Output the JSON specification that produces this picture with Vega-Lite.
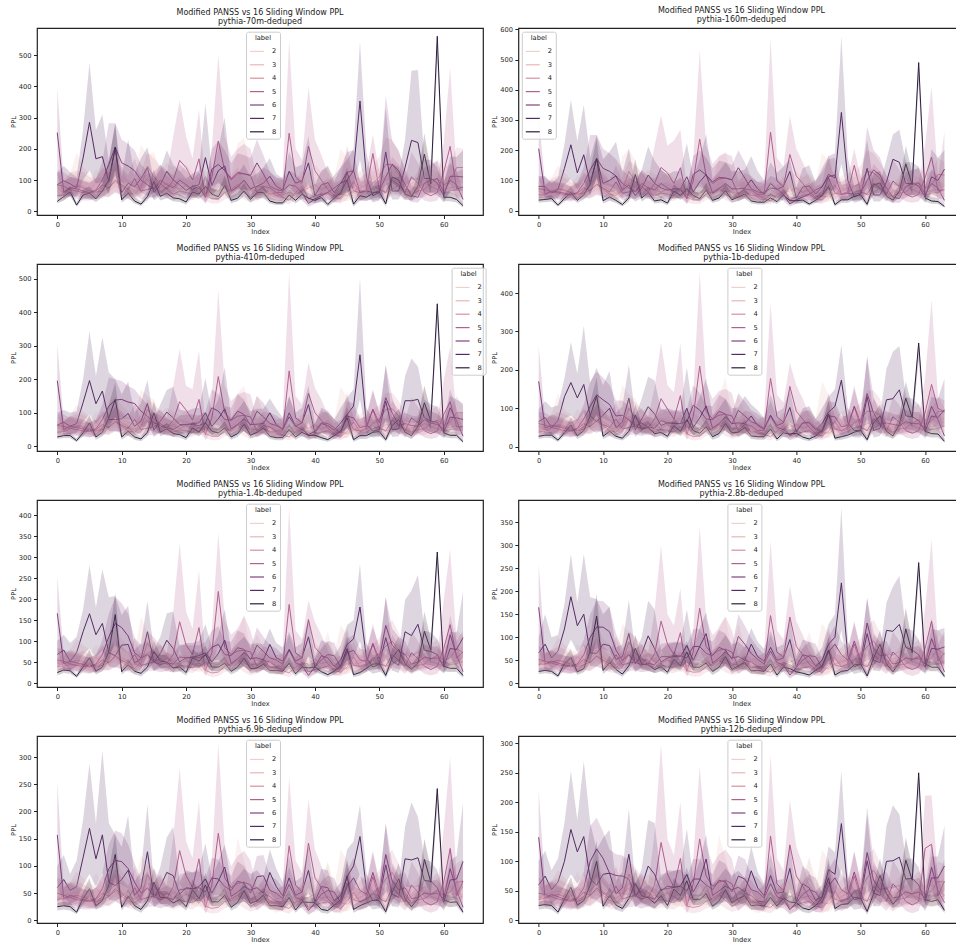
{"$schema":"https://vega.github.io/schema/vega-lite/v6.json","padding":{"left":9,"top":6,"right":0,"bottom":0},"autosize":{"type":"pad"},"background":"white",
"config":{"font":"DejaVu Sans","view":{"stroke":"#222","strokeWidth":1.2},"axis":{"grid":false,"domain":false,"tickColor":"#222","tickSize":3.5,"labelFontSize":6.7,"titleFontSize":6.7,"labelColor":"#222","titleColor":"#222","titleFontWeight":"normal","labelPadding":2.5,"titlePadding":3},"axisX":{"titlePadding":1},"title":{"fontSize":8,"fontWeight":"normal","color":"#222","subtitleFontSize":8,"subtitleColor":"#222","subtitlePadding":1,"offset":2,"anchor":"middle"},"legend":{"titleFontSize":6.7,"labelFontSize":6.7,"titleFontWeight":"normal","symbolSize":196,"symbolStrokeWidth":1.2,"rowPadding":1.4,"padding":3,"titlePadding":2,"fillColor":"#ffffffcc","strokeColor":"#ccc","cornerRadius":2,"titleAnchor":"middle","labelColor":"#222","titleColor":"#222","labelOffset":7}},
"datasets":{"all":[
{"p":1,"label":2,"y":[80,70,75,85,75,65,95,75,90,115,80,70,60,75,100,70,80,75,90,70,80,65,75,60,60,70,80,55,75,85,60,85,70,55,60,70,80,60,70,85,65,85,105,75,55,70,60,85,75,80,70,85,95,80,60,70,85,105,75,90,70,75,80,75],"lo":[55,50,52,58,52,45,65,50,60,75,55,48,42,50,68,48,55,50,60,48,55,45,50,40,42,48,55,38,50,58,42,58,48,38,40,48,55,42,48,58,45,58,70,50,38,48,42,58,50,55,48,58,65,55,42,48,58,70,50,62,48,50,55,50],"hi":[115,100,105,125,110,95,135,110,130,165,115,100,90,110,145,100,115,110,130,100,115,95,110,90,90,105,115,85,110,125,90,125,105,85,90,105,115,90,105,125,95,125,150,110,85,105,90,125,110,115,105,125,135,115,90,105,125,150,110,130,105,110,115,110]},
{"p":1,"label":3,"y":[75,60,72,85,80,70,60,75,95,120,95,80,65,85,105,85,75,90,80,70,85,70,60,75,70,65,75,60,85,95,70,65,75,60,50,55,60,55,65,75,85,70,80,60,55,50,65,75,85,70,80,60,70,85,65,50,75,90,80,70,60,65,70,78],"lo":[50,40,50,58,55,48,40,50,65,80,65,55,42,55,70,58,50,60,55,48,58,48,40,50,48,42,50,40,58,62,48,42,50,38,28,35,40,38,42,50,58,48,55,40,35,32,42,50,58,48,55,40,48,58,42,32,50,60,55,48,40,42,48,52],"hi":[125,105,120,190,140,120,105,130,165,200,165,140,115,212,180,190,130,155,140,125,150,125,105,130,125,115,130,110,218,235,125,150,130,110,90,100,110,100,115,130,150,125,140,110,200,170,115,130,150,125,140,110,125,150,115,90,130,225,140,125,105,115,125,135]},
{"p":1,"label":4,"y":[50,52,75,80,75,65,62,64,75,95,80,60,55,75,145,110,90,70,55,65,60,55,75,50,40,40,60,70,85,60,45,55,70,55,60,45,35,60,80,40,50,55,60,45,40,60,95,60,65,90,110,150,150,120,85,55,65,70,90,105,85,95,140,140],"lo":[32,35,50,55,50,42,40,42,48,62,52,38,35,48,95,72,58,45,35,42,40,35,48,32,25,25,38,45,55,38,28,35,45,35,38,28,22,38,52,25,32,35,38,28,25,38,62,38,42,58,70,98,98,78,55,35,42,45,58,68,55,62,90,90],"hi":[85,90,125,130,125,110,105,108,125,155,130,100,95,125,190,170,145,115,95,110,100,95,125,85,70,70,100,115,140,100,75,95,115,95,100,75,60,100,130,70,85,95,100,75,70,100,155,100,110,145,175,235,230,190,140,95,110,115,145,165,140,150,205,200]},
{"p":1,"label":5,"y":[85,80,70,65,60,58,65,85,75,100,85,70,105,65,70,75,90,70,100,163,140,100,168,45,110,225,130,100,120,120,115,60,80,75,60,60,250,110,90,208,130,100,70,50,55,125,65,60,70,185,70,60,100,85,60,110,90,60,50,60,125,208,72,77],"lo":[45,50,45,40,35,35,40,50,45,60,50,42,60,38,42,45,52,42,58,90,80,58,90,25,60,95,70,55,70,70,65,35,48,42,35,35,90,60,50,75,70,55,40,28,30,70,38,35,42,100,42,35,58,50,35,62,52,35,30,35,70,90,42,45],"hi":[125,125,110,105,95,95,105,140,125,165,140,115,170,110,120,125,150,115,240,355,240,170,325,85,200,500,240,175,200,215,200,105,140,130,105,110,545,200,165,395,230,180,125,90,100,210,115,105,125,245,125,105,175,150,105,190,155,105,90,105,220,460,125,135]},
{"p":1,"label":6,"y":[252,62,75,72,65,60,68,100,150,205,155,145,130,100,85,70,100,85,75,100,85,70,80,45,135,150,130,105,125,120,115,155,120,80,70,65,85,80,60,25,40,50,60,75,90,125,130,60,65,60,65,110,150,130,85,50,45,90,100,105,60,100,85,38],"lo":[120,40,50,48,42,38,42,60,90,130,95,90,80,60,50,42,60,50,45,60,50,42,48,25,80,90,75,60,72,70,65,90,70,48,42,38,50,48,35,15,24,30,35,45,52,75,75,35,38,35,38,60,90,75,50,30,28,52,60,60,35,60,50,22],"hi":[395,95,110,105,100,90,105,160,282,282,230,215,195,150,130,105,150,130,115,150,130,105,125,75,200,225,195,155,185,180,170,230,180,125,110,100,130,120,95,45,65,80,95,115,140,190,195,95,100,95,100,370,225,195,130,80,75,140,150,160,95,155,130,65]},
{"p":1,"label":7,"y":[85,98,88,75,170,285,168,175,95,203,60,90,78,105,140,60,85,128,100,85,67,80,85,172,83,130,145,65,78,100,72,80,90,112,80,68,128,90,98,155,50,85,92,60,90,100,130,353,110,50,60,190,65,65,140,227,220,105,105,90,50,112,112,110],"lo":[45,60,50,45,100,130,90,95,55,120,35,55,45,60,85,35,50,75,60,50,40,48,50,100,50,75,85,38,45,60,42,48,55,65,48,40,75,52,58,90,28,50,55,35,52,60,75,165,60,28,35,90,38,38,80,100,100,60,60,52,28,65,65,65],"hi":[125,145,125,110,260,475,260,310,160,282,110,230,120,170,205,100,135,195,150,130,105,120,130,345,130,200,300,105,120,150,110,120,140,170,120,105,190,140,150,240,85,130,145,95,140,165,200,543,190,85,100,330,110,110,230,450,452,165,165,140,85,175,175,195]},
{"p":1,"label":8,"y":[32,47,62,20,52,58,40,65,100,205,37,58,33,23,47,95,48,58,43,40,30,62,55,80,55,47,83,35,42,65,38,60,60,33,27,27,52,35,55,42,35,44,22,42,60,100,23,50,45,58,62,24,110,100,55,47,82,183,88,560,45,45,38,18],"lo":[25,35,48,15,40,42,30,45,60,130,28,42,25,17,35,65,35,42,32,30,22,45,40,55,40,35,58,26,32,48,28,42,42,25,20,20,38,26,40,30,26,32,15,30,42,65,15,35,32,42,45,16,70,60,38,35,55,120,55,480,32,32,28,12],"hi":[45,62,80,28,70,80,55,90,160,280,50,80,45,32,65,135,65,80,58,55,42,85,75,115,75,65,115,48,58,90,52,82,82,45,38,38,72,48,75,58,48,60,30,58,85,140,32,70,62,80,85,34,155,140,75,65,115,250,130,565,62,62,52,26]},
{"p":2,"label":2,"y":[72,65,68,72,65,58,85,65,80,95,70,62,55,65,88,62,70,68,78,62,70,58,65,55,55,62,70,50,65,75,55,75,62,50,52,62,70,55,62,72,58,75,92,65,50,62,55,75,65,70,62,75,82,70,55,62,75,92,65,80,62,65,70,65],"lo":[50,45,48,50,45,40,58,45,55,65,48,42,38,45,60,42,48,46,54,42,48,40,45,38,38,42,48,34,45,52,38,52,42,34,36,42,48,38,42,50,40,52,64,45,34,42,38,52,45,48,42,52,56,48,38,42,52,64,45,55,42,45,48,45],"hi":[102,92,96,105,92,82,120,92,112,138,100,88,78,92,125,88,100,96,112,88,100,82,92,78,78,88,100,72,92,108,78,108,88,72,74,88,100,78,88,102,82,108,132,92,72,88,78,108,92,100,88,108,118,100,78,88,108,132,92,115,88,92,100,92]},
{"p":2,"label":3,"y":[65,55,65,72,70,60,52,65,85,105,82,70,58,75,92,75,65,78,70,60,75,62,52,65,60,58,65,52,75,82,60,58,65,52,45,48,52,48,58,65,75,60,70,52,48,45,58,65,75,60,70,52,60,75,58,45,65,80,70,60,52,58,60,68],"lo":[45,38,45,50,48,42,35,45,58,70,58,48,38,50,62,52,45,52,48,42,52,42,35,45,42,38,45,35,50,55,42,38,45,32,25,30,35,32,38,45,50,42,48,35,30,28,38,45,50,42,48,35,42,50,38,28,45,55,48,42,35,38,42,45],"hi":[105,95,110,150,125,105,90,115,145,175,145,120,100,178,205,165,115,135,120,110,130,110,90,115,110,100,115,95,180,195,110,130,115,95,80,85,95,85,100,115,130,110,120,95,190,165,100,115,130,110,120,95,110,130,100,80,115,170,120,110,90,100,110,120]},
{"p":2,"label":4,"y":[53,52,62,72,68,60,55,58,68,85,72,55,50,68,130,95,80,62,50,58,55,50,68,45,35,36,55,62,75,55,40,50,62,50,52,40,32,52,70,35,45,50,55,40,35,52,85,52,58,80,95,130,125,105,75,48,58,62,80,92,75,85,120,118],"lo":[35,35,42,48,45,40,36,38,44,55,48,36,32,44,85,62,52,40,32,38,36,32,44,28,22,22,35,40,48,35,26,32,40,32,34,25,20,34,45,22,28,32,36,26,22,34,55,34,38,52,62,85,82,68,48,30,38,40,52,60,48,55,78,76],"hi":[85,85,105,115,110,95,90,95,110,135,115,90,85,110,165,150,125,100,85,95,90,85,110,75,60,60,90,100,120,90,65,85,100,85,85,65,55,85,115,60,75,85,90,65,60,90,135,85,95,125,150,200,190,160,120,80,95,100,125,145,120,130,175,160]},
{"p":2,"label":5,"y":[72,70,62,58,54,52,58,75,66,88,75,62,95,58,62,68,80,62,90,143,125,90,142,40,98,237,115,90,105,108,102,54,72,68,54,54,260,98,80,186,115,90,62,45,50,110,58,54,62,150,62,54,90,75,54,98,80,54,45,54,110,177,65,70],"lo":[40,42,38,35,32,30,35,45,40,52,45,38,55,34,38,40,48,38,52,80,72,52,78,22,55,95,65,50,60,62,58,30,42,38,30,30,95,55,45,75,62,50,35,25,28,62,32,30,36,85,36,30,50,44,30,55,45,30,26,30,62,85,38,40],"hi":[110,110,95,90,85,80,90,125,110,145,125,100,150,95,105,110,130,100,215,315,215,232,268,75,175,530,215,155,180,190,180,95,125,115,95,100,572,175,145,313,205,160,110,80,90,185,100,95,110,205,110,95,155,130,95,170,135,95,80,95,218,412,110,260]},
{"p":2,"label":6,"y":[205,55,65,62,58,52,60,90,135,172,140,130,115,90,75,62,90,75,68,90,75,62,72,40,120,135,118,95,110,108,102,142,108,72,62,58,75,72,54,22,36,45,54,68,80,112,118,54,58,54,58,100,135,118,75,45,40,80,90,92,54,90,75,34],"lo":[110,35,42,40,38,34,38,55,80,110,85,80,72,55,45,38,55,45,42,55,45,38,44,22,72,80,68,55,65,62,60,82,62,42,38,34,45,44,32,14,22,26,32,40,46,68,70,32,34,32,34,55,80,68,45,26,25,46,52,55,32,54,44,20],"hi":[313,85,100,95,90,80,95,145,250,250,205,190,170,135,115,95,135,115,105,135,115,95,110,68,180,200,175,140,165,160,150,200,160,110,95,90,115,108,85,40,58,70,85,102,125,170,175,85,90,85,90,278,200,175,115,72,65,125,135,140,85,135,115,58]},
{"p":2,"label":7,"y":[80,80,58,70,140,218,125,185,90,172,90,100,115,68,85,50,75,118,90,75,68,72,72,112,62,95,120,58,72,90,72,72,75,102,72,55,90,70,80,130,42,78,82,55,78,120,108,325,100,45,55,140,52,52,95,170,160,90,90,82,45,112,100,137],"lo":[42,50,35,42,85,105,70,100,50,105,40,60,65,40,50,30,42,70,52,42,38,42,42,65,36,55,70,32,42,52,42,42,44,58,42,32,52,40,46,75,24,45,48,32,45,70,62,155,55,26,32,80,30,30,55,85,80,52,52,48,26,62,55,75],"hi":[115,115,90,110,220,367,230,350,175,250,170,195,228,125,205,90,135,212,165,135,120,130,130,223,110,170,253,105,130,160,130,130,135,180,130,100,160,125,145,170,75,140,150,95,140,180,190,578,175,80,95,235,90,90,170,252,268,160,160,145,80,203,175,200]},
{"p":2,"label":8,"y":[35,37,40,18,40,60,34,52,88,172,33,45,34,20,42,120,42,60,32,36,25,65,50,73,50,40,68,34,42,66,36,45,55,32,28,28,42,30,52,33,33,35,22,34,50,80,20,36,36,48,52,21,85,92,48,35,65,155,85,490,42,32,30,14],"lo":[27,28,30,13,30,45,25,38,55,110,24,33,25,14,30,80,30,44,24,27,18,48,36,52,36,30,48,25,32,48,26,33,40,24,20,20,30,22,38,24,24,26,16,25,36,55,14,26,26,35,38,14,55,60,34,25,45,105,55,420,30,23,22,10],"hi":[45,48,52,26,55,80,46,72,135,240,44,60,46,28,58,170,56,80,44,48,34,88,68,102,68,54,92,46,56,90,48,62,74,44,38,38,58,42,70,46,44,48,30,46,68,115,28,48,48,64,70,30,125,130,66,48,90,215,125,495,56,44,42,20]},
{"p":3,"label":2,"y":[60,55,58,62,56,50,72,56,68,80,60,54,48,56,76,54,60,58,66,54,60,50,56,48,48,54,60,44,56,64,48,64,54,44,46,54,60,48,54,62,50,64,78,56,44,54,48,64,56,60,54,64,70,60,48,54,64,78,56,68,54,56,60,56],"lo":[42,38,40,44,38,34,50,38,46,55,42,36,32,38,52,36,42,40,46,36,42,34,38,32,32,36,42,30,38,44,32,44,36,30,30,36,42,32,36,42,34,44,54,38,30,36,32,44,38,42,36,44,48,42,32,36,44,54,38,46,36,38,42,38],"hi":[88,80,84,92,80,72,105,80,98,118,88,78,70,80,110,78,88,84,96,78,88,72,80,68,68,78,88,62,80,92,68,92,78,62,66,78,88,68,78,90,72,92,112,80,62,78,68,92,80,88,78,92,102,88,68,78,92,112,80,98,78,80,88,80]},
{"p":3,"label":3,"y":[56,48,55,62,60,52,45,56,72,90,70,60,50,64,78,64,56,66,60,52,64,54,45,56,52,50,56,45,64,70,52,50,56,45,38,42,45,42,50,56,64,52,60,45,42,38,50,56,64,52,60,45,52,64,50,38,56,68,60,52,45,50,52,58],"lo":[38,32,38,42,40,36,30,38,50,60,48,40,32,42,52,44,38,44,40,36,44,36,30,38,36,34,38,30,42,46,36,32,38,28,22,25,30,28,32,38,42,36,40,30,26,24,32,38,42,36,40,30,36,42,32,24,38,46,40,36,30,32,36,38],"hi":[90,80,92,125,105,90,78,98,125,150,122,104,85,170,150,140,100,115,104,92,110,94,78,98,94,85,98,80,158,180,92,152,98,80,68,72,80,72,85,98,110,94,104,80,178,145,85,98,110,92,104,80,92,110,85,68,98,182,104,94,78,85,94,102]},
{"p":3,"label":4,"y":[42,44,52,60,58,50,46,50,58,72,60,46,42,58,110,82,68,52,42,50,46,42,58,38,30,30,46,52,64,46,34,42,52,42,44,34,28,44,60,30,38,42,46,34,30,44,72,44,50,68,80,110,112,90,64,42,50,52,68,78,64,72,100,100],"lo":[28,30,36,40,38,34,30,32,38,48,40,30,28,38,72,54,44,34,28,32,30,28,38,24,18,18,30,34,42,30,22,28,34,28,28,22,18,28,38,18,24,28,30,22,18,28,46,28,32,44,52,72,74,58,42,26,32,34,44,50,42,46,65,65],"hi":[72,74,88,98,95,82,76,82,95,115,98,76,70,95,142,125,105,85,72,82,76,70,95,62,50,50,76,85,102,76,55,70,85,70,72,56,46,72,98,50,62,70,76,56,50,74,115,72,82,108,125,160,160,135,100,68,82,85,108,122,100,112,150,118]},
{"p":3,"label":5,"y":[62,60,54,50,46,44,50,65,56,75,64,54,80,50,54,58,68,54,78,133,108,78,140,35,85,208,100,78,90,92,88,46,62,58,46,46,225,85,70,158,100,78,54,38,44,95,50,46,54,110,54,46,78,64,46,85,70,46,38,46,95,133,58,60],"lo":[35,36,32,30,28,26,30,38,34,45,38,32,46,30,32,34,40,32,46,75,60,46,76,18,48,85,55,42,50,52,50,26,36,34,26,26,82,48,40,65,55,44,30,22,24,54,28,26,30,60,30,26,44,38,26,48,40,26,22,26,54,62,34,35],"hi":[95,95,85,78,72,70,78,105,90,120,105,86,128,80,90,94,110,86,180,290,180,170,286,62,150,467,180,135,155,162,155,80,105,98,80,85,518,150,125,250,175,140,95,70,80,160,85,80,95,170,95,80,135,110,80,145,118,80,70,80,197,298,95,100]},
{"p":3,"label":6,"y":[196,50,60,56,52,46,52,80,120,138,140,132,128,105,90,70,62,55,50,62,65,65,62,70,115,105,80,78,105,95,62,105,88,68,62,52,100,60,50,35,45,70,68,55,40,90,85,56,60,110,70,145,100,62,68,62,60,80,70,65,50,115,75,30],"lo":[100,32,36,34,32,28,32,48,72,85,85,80,76,62,54,42,38,32,30,38,40,40,38,42,68,62,48,46,62,56,36,62,52,40,36,30,60,36,30,20,26,42,40,32,24,54,50,32,36,62,42,80,58,36,40,36,36,48,42,38,30,65,44,18],"hi":[305,75,90,84,80,70,80,125,205,200,195,180,170,145,125,100,92,82,75,92,95,95,92,105,170,155,120,115,155,140,92,150,130,100,92,78,148,88,75,55,68,105,100,82,60,135,128,84,88,165,104,243,145,92,100,92,88,120,105,98,75,170,112,48]},
{"p":3,"label":7,"y":[63,72,60,68,130,196,127,165,80,80,82,98,60,75,128,48,75,102,85,65,65,68,70,100,60,82,112,52,65,82,65,66,68,100,65,50,88,60,70,125,40,68,62,48,70,95,120,273,65,45,50,135,50,52,136,136,140,85,75,72,42,87,85,80],"lo":[35,44,35,40,75,95,68,88,45,45,44,55,35,42,72,28,42,58,48,36,36,38,40,56,34,46,62,30,36,46,36,38,38,56,36,28,50,34,40,72,22,38,35,28,40,55,68,140,36,26,28,75,28,30,72,70,72,48,42,40,24,48,46,46],"hi":[100,108,100,105,200,343,210,325,220,200,155,193,100,130,197,80,125,168,178,110,105,112,115,203,100,140,235,85,108,135,105,112,112,143,112,85,150,100,115,180,68,115,105,80,115,145,170,501,115,78,85,240,85,88,210,262,237,140,125,118,72,150,140,128]},
{"p":3,"label":8,"y":[28,32,32,17,40,70,28,42,85,140,28,45,28,22,42,100,42,52,38,35,26,55,42,70,45,40,55,28,38,66,33,42,55,30,26,26,50,28,42,33,33,26,20,32,45,85,20,32,32,42,44,20,62,80,42,32,60,130,75,425,40,33,33,14],"lo":[22,25,24,12,30,50,20,30,55,90,20,32,20,15,30,68,30,38,28,26,18,40,30,50,32,30,40,20,28,48,24,30,40,22,18,18,36,20,30,24,24,18,14,22,32,60,14,22,22,30,32,14,42,52,30,22,42,90,50,360,28,24,24,10],"hi":[36,40,40,24,52,95,38,58,125,190,38,60,38,30,58,135,56,70,50,46,36,75,58,95,60,52,75,38,50,92,44,58,76,40,36,36,68,38,58,44,44,36,28,44,62,118,28,44,44,56,60,28,85,112,56,44,82,180,105,430,54,44,44,20]},
{"p":4,"label":2,"y":[55,50,54,58,52,46,66,52,62,74,56,50,44,52,70,50,56,54,60,50,56,46,52,44,44,50,56,40,52,60,44,60,50,40,42,50,56,44,50,58,46,60,72,52,40,50,44,60,52,56,50,60,64,56,44,50,60,72,52,62,50,52,56,52],"lo":[38,34,36,40,36,32,46,36,42,50,38,34,30,36,48,34,38,36,42,34,38,32,36,30,30,34,38,28,36,42,30,42,34,28,28,34,38,30,34,40,32,42,50,36,28,34,30,42,36,38,34,42,44,38,30,34,42,50,36,42,34,36,38,36],"hi":[82,75,80,86,76,68,98,76,92,110,82,74,64,76,104,74,82,80,90,74,82,68,76,64,64,74,82,58,76,88,64,88,74,58,62,74,82,64,74,86,68,88,106,76,58,74,64,88,76,82,74,88,95,82,64,74,88,106,76,92,74,76,82,76]},
{"p":4,"label":3,"y":[52,44,50,58,55,48,42,52,66,82,64,55,46,58,72,58,52,60,55,48,58,50,42,52,48,46,52,42,58,64,48,46,52,42,35,38,42,38,46,52,58,48,55,42,38,35,46,52,58,48,55,42,48,58,46,35,52,62,55,48,42,46,48,54],"lo":[35,30,34,38,36,32,28,35,44,55,44,36,30,38,48,40,35,40,36,32,38,34,28,35,32,30,35,28,38,42,32,30,35,25,20,24,28,25,30,35,38,32,36,28,24,22,30,35,38,32,36,28,32,38,30,22,35,42,36,32,28,30,32,36],"hi":[84,74,84,140,96,84,72,90,115,140,112,95,78,162,135,125,92,106,95,84,102,86,72,90,86,78,90,74,130,180,84,135,90,74,62,66,74,66,78,90,102,86,95,74,170,135,78,90,102,84,95,74,84,102,78,62,90,150,95,86,72,78,86,94]},
{"p":4,"label":4,"y":[38,40,48,55,52,46,42,46,54,66,55,42,38,52,100,75,62,48,38,46,42,38,52,34,26,28,42,48,58,42,32,38,48,38,40,32,26,40,55,28,34,38,42,32,28,40,66,40,46,62,72,92,92,82,58,38,46,48,62,70,58,66,92,92],"lo":[26,28,32,36,34,30,28,30,36,44,36,28,26,34,65,50,40,32,26,30,28,26,34,22,16,18,28,32,38,28,20,26,32,26,26,20,16,26,36,16,22,26,28,20,16,26,42,26,30,40,48,60,60,52,38,24,30,32,40,46,38,42,60,60],"hi":[65,68,80,90,86,76,70,76,88,105,90,70,64,86,128,115,96,78,65,76,70,64,86,56,44,46,70,78,94,70,50,64,78,64,66,52,42,66,90,46,56,64,70,52,46,68,105,66,76,98,115,146,146,125,92,62,76,78,98,112,92,100,130,100]},
{"p":4,"label":5,"y":[60,56,50,46,42,40,46,60,52,70,58,50,72,46,50,54,62,50,72,125,98,72,133,32,78,210,92,72,82,84,80,42,58,54,42,42,178,78,64,157,92,72,50,35,40,85,46,42,50,105,50,42,72,58,42,78,64,42,35,42,88,162,100,90],"lo":[34,34,30,28,26,24,28,36,32,42,35,30,42,28,30,32,38,30,42,70,56,42,72,18,44,85,50,40,46,48,46,24,34,32,24,24,70,44,36,65,50,40,28,20,22,50,26,24,28,58,28,24,42,34,24,44,36,24,20,24,50,70,58,50],"hi":[90,88,78,72,66,64,72,98,82,112,94,78,116,72,80,86,100,78,155,270,160,142,270,56,135,455,165,125,145,150,140,72,95,88,72,78,375,135,115,218,160,125,85,62,72,140,78,72,85,160,85,72,125,100,72,130,108,72,62,72,180,383,130,120]},
{"p":4,"label":6,"y":[170,48,56,52,48,42,48,72,105,135,122,110,80,82,70,52,48,52,48,68,62,62,60,65,108,95,72,70,92,85,58,95,80,65,58,48,80,50,45,30,42,62,64,48,38,80,78,52,55,105,62,138,88,58,62,58,55,65,60,60,48,105,70,28],"lo":[85,30,34,32,30,26,30,44,64,82,74,66,48,50,42,32,28,32,28,42,38,38,36,40,64,56,44,42,55,50,35,56,48,38,34,28,48,30,26,18,24,38,38,28,22,48,46,30,32,62,36,78,52,34,36,34,32,38,35,36,28,60,42,16],"hi":[262,70,84,78,72,64,72,110,170,195,180,160,120,120,105,80,72,78,72,100,92,92,90,98,160,140,108,105,135,125,85,140,118,95,85,72,118,75,66,46,62,92,95,72,56,118,115,78,82,150,92,235,130,85,92,85,82,96,90,90,70,152,104,44]},
{"p":4,"label":7,"y":[65,76,50,68,130,167,127,162,80,65,82,100,50,64,126,44,72,104,85,55,62,60,60,100,50,75,106,48,60,78,60,62,60,80,55,45,82,55,62,102,38,62,62,44,60,90,105,173,62,42,42,130,42,48,122,125,148,80,78,68,40,80,76,96],"lo":[35,44,28,38,72,82,66,88,44,36,45,55,28,36,70,26,40,58,48,32,36,34,34,56,28,42,60,28,34,44,34,36,34,46,32,26,46,32,36,58,22,36,36,26,34,52,60,88,36,24,24,72,24,28,68,66,76,44,44,38,22,44,42,54],"hi":[98,118,102,108,178,272,190,315,165,205,160,197,88,105,213,80,125,182,172,95,100,95,95,207,90,128,178,82,100,125,100,102,132,110,95,75,135,90,100,150,64,100,105,72,100,130,150,265,100,72,72,235,72,80,203,247,262,130,125,110,68,130,125,177]},
{"p":4,"label":8,"y":[27,30,30,17,36,56,28,42,80,132,27,40,27,22,40,82,45,50,34,37,27,55,40,70,42,35,52,26,34,60,36,38,50,28,26,26,46,20,36,33,35,25,20,28,42,85,22,26,30,38,42,18,62,80,40,28,58,126,76,270,40,34,33,14],"lo":[20,23,22,12,28,42,20,30,52,85,20,28,20,16,28,58,32,36,24,28,20,40,28,50,30,26,38,18,24,44,26,28,36,20,18,18,34,14,26,24,26,18,14,20,30,60,16,18,22,28,30,12,44,54,28,20,40,85,50,225,28,24,24,10],"hi":[34,38,38,24,46,76,38,56,115,180,36,54,36,30,54,110,60,68,46,48,36,76,54,95,58,46,72,36,46,84,48,52,70,38,36,36,62,28,50,44,46,34,28,40,58,120,30,36,42,52,56,26,85,110,54,38,80,170,105,275,54,46,44,20]},
{"p":5,"label":2,"y":[52,48,50,54,48,44,62,48,58,70,52,46,42,48,66,46,52,50,58,46,52,44,48,40,40,46,52,38,48,56,40,56,46,38,40,46,52,42,46,54,44,56,68,48,38,46,42,56,48,52,46,56,60,52,42,46,56,68,48,58,46,48,52,48],"lo":[36,32,34,38,34,30,44,34,40,48,36,32,28,34,46,32,36,34,40,32,36,30,34,28,28,32,36,26,34,38,28,38,32,26,28,32,36,28,32,38,30,38,48,34,26,32,28,38,34,36,32,38,42,36,28,32,38,48,34,40,32,34,36,34],"hi":[78,70,74,80,72,64,92,72,86,105,78,68,60,72,98,68,78,74,86,68,78,64,72,60,60,68,78,54,72,82,60,82,68,54,58,68,78,60,68,80,64,82,100,72,54,68,60,82,72,78,68,82,90,78,60,68,82,100,72,86,68,72,78,72]},
{"p":5,"label":3,"y":[48,42,48,54,52,46,40,48,62,78,60,52,44,56,68,56,48,58,52,44,56,46,40,48,46,44,48,40,56,60,46,44,48,40,34,36,40,36,44,48,56,46,52,40,36,34,44,48,56,46,52,40,46,56,44,34,48,60,52,46,40,44,46,52],"lo":[32,28,32,36,34,30,26,32,42,52,40,34,28,38,46,38,32,38,34,30,38,30,26,32,30,28,32,26,38,40,30,28,32,24,18,22,26,24,28,32,36,30,34,26,22,20,28,32,36,30,34,26,30,36,28,20,32,40,34,30,26,28,30,34],"hi":[80,70,80,105,90,80,68,82,105,130,105,90,74,158,120,110,84,98,90,76,96,80,68,84,80,74,84,70,120,160,80,115,84,68,58,62,68,62,74,84,96,78,122,68,138,115,74,84,96,78,90,68,78,96,74,58,84,148,90,80,68,74,78,88]},
{"p":5,"label":4,"y":[39,40,44,42,48,42,38,42,50,62,50,40,35,48,95,72,58,45,36,42,40,36,48,30,24,26,40,45,55,40,30,36,45,36,38,30,24,38,50,26,32,36,40,30,26,38,62,38,42,58,68,88,100,78,54,36,42,45,58,66,54,60,82,72],"lo":[26,28,30,28,32,28,24,28,32,40,32,26,22,32,62,48,38,30,24,28,26,24,32,20,14,16,26,30,36,26,18,24,30,24,24,18,14,24,32,16,20,24,26,18,16,24,40,24,28,38,44,58,66,50,36,22,28,30,38,44,36,40,54,48],"hi":[62,64,70,68,78,68,62,68,82,98,82,66,58,78,125,108,92,72,58,68,66,58,78,50,40,42,66,72,88,66,48,58,72,58,62,48,40,62,82,42,52,58,66,48,42,62,98,62,68,92,108,135,150,120,86,58,68,72,92,104,86,95,125,112]},
{"p":5,"label":5,"y":[55,52,46,42,40,38,42,55,48,65,54,46,68,42,46,50,58,46,68,146,90,68,132,30,72,218,85,68,76,78,74,40,54,50,40,40,187,72,60,151,85,68,46,32,36,78,42,40,46,95,46,40,68,54,40,72,58,40,32,40,82,139,60,74],"lo":[32,30,28,26,24,22,26,32,30,38,32,28,40,26,28,30,34,28,40,80,52,40,70,16,42,90,48,38,44,44,42,22,32,30,22,22,75,42,34,65,46,38,26,18,20,46,24,22,26,54,26,22,38,32,22,42,34,22,18,22,46,65,34,42],"hi":[84,80,72,66,62,60,66,90,76,105,88,72,108,66,74,80,92,72,170,333,170,130,268,52,125,358,150,115,130,160,125,66,88,82,66,70,417,125,105,197,145,115,78,58,66,130,72,66,78,142,78,66,115,92,66,122,100,66,58,66,197,319,100,124]},
{"p":5,"label":6,"y":[166,46,52,48,44,40,45,68,110,142,132,112,72,60,68,50,44,48,45,62,60,60,60,65,85,92,68,65,84,80,55,90,75,60,55,45,78,48,42,18,38,55,68,65,38,72,78,55,52,92,58,137,90,75,68,45,50,62,58,60,46,115,66,27],"lo":[80,28,32,30,28,24,28,42,68,88,80,68,44,36,42,30,26,28,26,38,36,36,36,40,52,56,42,40,50,48,32,54,46,36,32,26,46,28,24,10,22,32,40,38,22,44,46,32,30,55,34,78,54,44,40,26,30,36,34,35,26,62,38,16],"hi":[254,68,78,72,66,60,68,102,165,205,190,165,108,90,102,75,66,72,68,92,90,90,90,98,125,135,100,98,125,118,82,132,110,90,82,68,115,72,64,30,58,82,100,96,58,105,115,82,78,132,88,205,130,110,100,68,75,92,86,88,68,160,98,42]},
{"p":5,"label":7,"y":[68,78,52,72,122,165,115,142,72,65,90,92,48,58,122,50,70,102,82,50,60,62,65,72,50,70,102,46,58,72,58,60,55,92,60,52,80,52,60,110,38,65,60,40,55,92,105,181,60,38,45,108,52,42,122,113,140,78,75,68,38,82,80,108],"lo":[38,46,30,40,68,82,62,78,40,36,50,50,28,32,68,28,40,58,46,28,34,36,38,42,28,40,58,26,32,40,32,34,32,52,34,30,46,30,34,62,22,36,34,22,32,52,60,100,34,22,26,60,30,24,68,60,72,44,42,38,22,46,44,60],"hi":[100,115,95,110,175,281,180,271,204,207,162,184,78,95,195,80,110,166,170,88,95,95,100,140,85,115,176,78,95,110,92,95,92,130,95,85,122,85,95,155,62,102,95,65,90,138,150,283,95,65,72,205,85,70,198,220,257,125,120,105,62,122,120,218]},
{"p":5,"label":8,"y":[25,31,29,16,38,60,28,38,75,163,27,44,28,23,38,75,52,50,36,38,25,60,52,68,38,38,47,28,38,59,34,36,45,30,30,28,47,22,38,36,38,27,20,28,42,82,20,25,35,45,46,18,60,80,46,33,48,123,78,312,40,35,35,18],"lo":[18,24,22,12,28,44,20,28,50,105,20,32,20,16,28,50,36,36,26,28,18,42,36,48,28,28,34,20,28,42,24,26,32,22,22,20,34,16,28,26,28,20,14,20,30,56,14,18,26,32,34,12,42,52,32,24,34,82,50,265,28,26,26,12],"hi":[32,38,36,22,48,80,36,50,105,215,36,58,36,30,50,102,68,66,46,50,34,80,70,90,50,50,62,36,50,78,44,48,60,40,40,36,62,30,50,46,50,36,28,38,56,112,28,34,46,60,62,26,82,110,60,44,66,170,105,315,54,46,46,24]},
{"p":6,"label":2,"y":[48,46,48,50,46,42,58,46,54,66,50,44,40,46,62,44,50,48,54,44,50,42,46,38,38,44,50,36,46,52,38,52,44,36,38,44,50,40,44,50,42,52,64,46,36,44,40,52,46,50,44,52,56,50,40,44,52,64,46,54,44,46,50,46],"lo":[34,32,32,34,32,28,40,32,36,44,34,30,28,32,42,30,34,32,38,30,34,28,32,26,26,30,34,24,32,36,26,36,30,24,26,30,34,28,30,34,28,36,44,32,24,30,28,36,32,34,30,36,38,34,28,30,36,44,32,38,30,32,34,32],"hi":[72,68,72,76,68,62,86,68,80,98,74,66,58,68,92,66,74,72,80,66,74,62,68,56,56,66,74,52,68,78,56,78,66,52,56,66,74,58,66,76,62,78,95,68,52,66,58,78,68,74,66,78,84,74,58,66,78,95,68,80,66,68,74,68]},
{"p":6,"label":3,"y":[44,40,44,50,48,42,38,46,58,72,56,48,40,52,64,52,44,54,48,42,52,44,38,46,42,40,46,38,52,56,42,40,46,38,32,34,38,34,42,46,52,42,48,38,34,32,42,46,52,42,48,38,42,52,40,32,46,56,48,42,38,40,42,48],"lo":[30,26,30,34,32,28,24,30,38,48,38,32,26,34,42,36,30,36,32,28,34,28,24,30,28,26,30,24,34,36,28,26,30,22,16,20,24,22,26,30,34,28,32,24,20,18,26,30,34,28,32,24,28,34,26,18,30,38,32,28,24,26,28,32],"hi":[74,66,74,100,84,72,64,78,98,125,98,84,68,130,110,102,76,92,84,72,90,76,64,78,74,68,78,65,125,145,72,130,78,64,54,58,64,58,70,78,90,74,112,64,130,108,70,78,90,72,84,64,72,90,68,54,78,168,84,74,64,68,72,82]},
{"p":6,"label":4,"y":[41,42,46,50,46,40,36,40,46,58,46,38,34,45,90,66,54,42,34,40,36,34,46,28,24,25,36,42,50,38,28,34,42,34,36,28,24,36,46,24,30,34,36,28,24,36,56,36,40,52,62,80,92,72,50,34,40,42,52,60,48,56,74,62],"lo":[28,28,30,32,30,26,22,26,30,38,30,24,22,30,60,44,36,28,22,26,24,22,30,18,14,15,24,28,34,24,18,22,28,22,22,18,14,22,30,14,18,22,24,18,14,22,36,22,26,34,40,52,60,46,32,20,26,28,34,38,32,36,48,40],"hi":[64,66,72,80,74,64,58,64,75,92,74,60,54,72,115,100,84,66,54,64,58,54,72,46,38,40,58,66,80,60,44,54,66,54,58,44,38,58,74,38,48,54,58,44,38,58,90,58,64,84,98,122,138,110,78,54,64,66,84,95,76,86,115,100]},
{"p":6,"label":5,"y":[52,48,44,40,38,36,40,52,45,60,50,42,62,40,44,46,54,42,64,135,85,62,110,26,68,163,80,62,72,74,68,36,50,46,36,36,147,68,56,144,80,62,42,30,34,72,40,36,42,85,42,36,62,50,36,68,54,36,30,36,76,135,48,66],"lo":[30,28,26,24,22,20,24,30,26,36,30,26,36,24,26,28,32,26,38,72,48,36,58,14,38,70,45,36,42,42,40,20,30,28,20,20,62,38,32,60,44,36,24,16,18,42,24,20,24,48,24,20,36,30,20,38,32,20,16,20,42,62,28,38],"hi":[80,76,68,62,60,56,62,85,72,98,82,66,100,62,70,74,86,66,158,300,150,125,207,50,115,340,140,105,120,145,115,60,82,76,60,65,309,115,95,212,135,105,70,55,60,120,66,60,70,130,70,60,105,85,60,112,92,60,55,60,162,313,85,112]},
{"p":6,"label":6,"y":[165,42,48,44,40,38,42,62,100,122,122,112,72,50,62,46,40,44,40,58,58,60,60,55,80,80,65,60,78,72,52,102,85,65,52,42,70,45,40,18,34,50,60,58,34,68,85,62,50,92,50,131,75,60,62,42,45,55,52,55,42,97,60,25],"lo":[76,26,30,28,24,22,26,38,62,76,74,68,44,30,38,28,24,26,24,36,34,36,36,34,48,48,40,36,48,42,30,60,50,38,30,24,42,26,24,10,20,30,36,34,20,40,50,36,30,55,30,72,44,36,36,24,26,32,30,32,24,52,34,14],"hi":[258,64,72,66,60,58,64,95,150,180,178,165,108,75,92,68,60,66,62,86,88,90,90,82,118,118,98,90,115,108,78,150,125,98,78,64,105,68,62,28,52,76,90,86,52,100,125,92,76,135,75,185,110,90,92,64,68,82,78,82,62,142,90,38]},
{"p":6,"label":7,"y":[66,85,55,70,118,188,125,150,66,65,85,82,52,58,108,42,65,103,75,46,55,58,58,82,50,80,108,44,55,68,55,58,50,85,58,48,78,50,55,95,36,62,58,38,50,85,100,218,60,36,42,108,50,45,115,113,128,78,72,62,35,76,74,79],"lo":[36,50,32,40,65,95,68,82,38,36,48,46,30,32,60,24,36,58,42,26,32,32,32,46,28,46,60,24,32,38,32,32,28,48,32,28,44,28,32,52,20,34,32,22,28,48,56,115,34,20,24,62,28,26,62,60,68,44,40,34,20,42,40,42],"hi":[100,150,100,105,172,280,175,281,187,183,150,166,78,85,181,68,100,179,160,72,85,88,88,160,78,120,155,70,85,105,85,90,78,120,90,75,115,78,85,140,58,95,90,60,78,128,150,381,92,58,68,185,78,70,175,210,233,120,115,95,55,118,115,120]},
{"p":6,"label":8,"y":[26,28,26,16,42,56,25,32,70,146,28,45,30,20,38,76,42,40,30,36,24,52,38,68,35,35,44,26,35,58,30,38,45,27,28,26,42,18,35,32,25,22,18,28,38,72,18,26,28,40,42,16,55,85,42,25,45,118,66,262,42,35,35,15],"lo":[20,22,20,12,30,42,18,24,46,95,20,32,22,14,28,52,30,28,22,26,18,36,28,48,26,26,32,18,26,42,22,28,32,20,20,18,30,12,26,24,18,16,12,20,28,50,12,18,20,28,30,10,38,56,30,18,32,80,44,222,30,26,26,11],"hi":[32,35,32,22,54,75,32,42,100,195,36,60,38,28,50,105,54,52,38,46,32,72,50,92,46,46,58,34,46,76,40,50,60,36,38,34,56,26,46,42,34,30,26,38,52,100,26,34,38,54,56,24,75,115,56,34,60,162,90,266,56,46,46,20]},
{"p":7,"label":2,"y":[58,46,48,52,46,42,60,46,54,64,50,44,40,46,60,44,50,48,54,44,50,42,46,38,38,44,48,36,46,52,38,52,44,36,38,44,48,38,44,50,42,52,72,46,36,44,38,52,46,50,44,52,58,50,38,44,52,62,46,54,44,46,50,46],"lo":[40,32,32,36,32,28,42,32,36,44,34,30,28,32,42,30,34,32,38,30,34,28,32,26,26,30,32,24,32,36,26,36,30,24,26,30,32,26,30,34,28,36,50,32,24,30,26,36,32,34,30,36,40,34,26,30,36,42,32,38,30,32,34,32],"hi":[88,68,72,78,68,62,88,68,80,95,74,66,58,68,88,66,74,72,80,66,74,62,68,56,56,66,72,52,68,78,56,78,66,52,56,66,72,56,66,76,62,78,105,68,52,66,56,78,68,74,66,78,86,74,56,66,78,92,68,80,66,68,74,68]},
{"p":7,"label":3,"y":[42,38,42,46,44,40,36,42,54,66,52,44,38,48,58,48,42,50,44,40,48,42,36,42,40,38,42,36,48,52,40,38,42,36,30,32,36,32,38,42,48,40,44,36,32,30,38,42,48,40,44,36,40,48,38,30,42,52,44,40,36,38,40,44],"lo":[28,26,28,30,28,26,24,28,36,44,34,28,26,32,38,32,28,34,28,26,32,28,24,28,26,26,28,24,32,34,26,26,28,20,14,18,22,20,24,28,32,26,30,24,18,16,24,28,32,26,30,24,26,32,24,16,28,34,30,26,24,24,26,30],"hi":[70,64,70,90,78,68,60,72,92,118,90,76,62,120,100,90,72,86,76,68,84,72,60,72,68,64,72,60,152,110,68,62,72,60,48,54,60,54,66,72,84,68,108,60,130,110,64,72,84,68,80,60,68,84,64,48,72,148,78,68,60,64,68,76]},
{"p":7,"label":4,"y":[38,40,44,46,42,38,34,38,44,54,44,36,32,42,84,62,50,40,32,38,34,32,42,26,22,24,34,40,46,36,26,32,40,32,32,26,22,34,44,22,28,32,34,26,22,34,52,34,38,50,58,76,88,68,48,32,38,40,48,56,46,52,70,72],"lo":[26,26,28,30,28,24,20,24,28,36,28,22,20,28,55,40,32,26,20,24,22,20,28,16,12,14,22,26,30,22,16,20,26,20,20,16,12,22,28,12,16,20,22,16,12,20,34,20,24,32,38,50,58,44,30,18,24,26,30,36,30,34,46,46],"hi":[60,62,68,72,66,60,54,60,70,85,70,56,50,66,108,95,78,62,50,60,54,50,66,42,36,38,54,62,74,56,40,50,62,50,52,42,36,54,68,36,44,50,54,42,36,54,82,54,60,78,92,115,130,104,74,50,60,62,76,88,72,82,105,112]},
{"p":7,"label":5,"y":[50,46,42,38,36,34,38,50,44,58,48,40,60,38,42,44,52,40,62,128,82,60,113,24,65,160,78,60,68,70,65,34,48,44,34,34,137,65,52,142,78,60,40,28,32,68,38,34,40,80,40,34,60,48,34,65,52,34,28,34,70,132,45,72],"lo":[28,26,24,22,20,20,22,30,26,34,28,24,34,22,24,26,30,24,36,68,46,34,60,12,36,68,44,34,38,40,36,18,28,26,18,18,58,36,30,60,42,34,22,14,16,38,22,18,22,44,22,18,34,28,18,36,30,18,14,18,38,60,26,40],"hi":[78,72,66,60,56,54,60,82,70,95,78,62,98,60,68,70,84,64,152,280,145,115,219,48,110,324,135,100,118,128,110,56,78,72,56,62,263,110,88,223,130,100,66,52,56,110,62,56,66,122,66,56,100,80,56,108,88,56,50,56,168,300,78,110]},
{"p":7,"label":6,"y":[157,40,46,42,38,36,40,58,95,110,108,95,70,50,60,44,38,42,38,56,58,58,60,52,78,76,62,55,72,68,50,80,82,55,50,40,66,42,38,18,32,48,55,52,32,62,78,55,48,88,48,121,72,56,60,40,42,50,48,50,40,95,55,24],"lo":[72,24,28,26,24,22,24,36,58,68,66,58,42,30,36,26,22,26,22,34,34,34,36,32,46,46,38,32,44,40,28,48,50,32,28,22,38,24,22,10,18,28,32,30,18,36,46,32,28,52,28,68,42,32,34,22,24,28,28,28,22,52,32,14],"hi":[254,60,70,64,58,54,60,88,140,165,160,140,105,75,90,66,58,64,58,84,88,88,90,78,115,112,92,82,108,100,75,118,120,82,75,60,98,64,58,26,48,72,82,78,48,92,115,82,72,128,72,178,105,84,88,60,64,74,72,75,60,135,82,36]},
{"p":7,"label":7,"y":[60,75,55,62,115,169,113,157,70,64,75,92,46,60,126,42,62,88,82,48,60,58,62,76,50,72,98,44,52,62,56,60,50,88,62,45,78,46,52,92,34,62,60,36,45,80,100,154,58,36,40,102,48,42,113,111,115,73,72,60,33,74,76,108],"lo":[34,44,30,36,65,85,62,88,38,36,42,52,26,34,70,24,34,48,46,28,34,32,36,44,28,40,56,24,30,34,32,34,28,50,34,26,44,26,30,52,20,36,34,20,26,46,56,85,32,20,22,58,26,24,62,60,62,40,40,34,18,40,42,60],"hi":[100,120,85,110,185,288,178,312,179,157,135,193,72,90,213,66,98,152,172,72,92,88,95,141,78,108,140,68,80,95,85,92,78,130,95,70,118,72,80,135,52,95,92,55,70,130,145,212,88,54,62,178,75,65,172,217,190,112,108,92,50,110,118,216]},
{"p":7,"label":8,"y":[25,27,25,15,40,58,27,36,65,121,24,44,27,20,36,70,42,42,32,38,25,56,40,65,34,34,46,24,33,55,31,36,46,27,27,25,42,19,34,33,33,20,18,28,38,82,20,27,32,37,36,16,52,76,40,25,40,112,70,242,38,33,34,15],"lo":[18,20,18,11,28,44,20,26,44,80,18,32,20,14,26,48,30,30,24,28,18,40,30,46,26,26,34,18,24,40,22,26,34,20,20,18,30,14,26,24,24,14,12,20,28,56,14,20,24,28,26,11,36,50,28,18,28,75,46,205,28,24,26,11],"hi":[32,34,32,20,52,78,34,46,90,160,32,58,34,26,46,96,54,54,42,50,32,76,52,88,44,44,60,32,44,72,40,46,60,36,36,32,56,26,44,42,42,28,24,38,52,110,28,36,42,50,48,22,72,105,54,34,54,150,96,245,50,44,44,20]},
{"p":8,"label":2,"y":[60,44,46,50,44,40,56,44,52,60,48,42,38,44,56,42,48,46,52,42,48,40,44,36,36,42,46,34,44,50,36,50,42,34,36,42,46,36,42,48,40,50,72,52,34,42,36,50,44,48,42,50,56,48,36,42,50,58,44,50,42,44,48,44],"lo":[42,30,30,34,30,26,38,30,34,42,32,28,26,30,38,28,32,30,36,28,32,26,30,24,24,28,30,22,30,34,24,34,28,22,24,28,30,24,28,32,26,34,50,36,22,28,24,34,30,32,28,34,38,32,24,28,34,40,30,34,28,30,32,30],"hi":[88,65,68,74,65,60,82,65,76,90,72,62,56,65,84,62,72,68,76,62,72,60,65,54,54,62,68,50,65,74,54,74,62,50,54,62,68,54,62,72,60,74,105,76,50,62,54,74,65,72,62,74,82,72,54,62,74,86,65,74,62,65,72,65]},
{"p":8,"label":3,"y":[40,36,40,44,42,38,34,40,50,62,48,42,36,46,54,46,40,46,42,38,46,40,34,40,38,36,40,34,46,48,38,36,40,34,28,30,34,30,36,40,46,38,42,34,30,28,36,40,46,38,42,34,38,46,36,28,40,50,42,38,34,36,38,42],"lo":[26,24,26,28,28,24,22,26,34,42,32,28,24,30,36,30,26,30,28,26,30,26,22,26,24,24,26,22,30,32,24,24,26,18,12,16,20,18,22,26,30,24,28,22,16,14,22,26,30,24,28,22,24,30,22,14,26,32,28,24,22,22,24,28],"hi":[66,60,66,85,72,62,56,68,84,110,82,70,60,110,92,86,68,78,70,62,80,68,56,68,64,60,68,56,145,105,64,58,68,56,46,50,56,50,62,68,80,64,108,56,120,102,60,68,80,64,74,56,64,80,60,46,68,140,72,64,56,60,64,72]},
{"p":8,"label":4,"y":[35,38,42,44,40,36,32,36,42,52,42,34,30,40,78,58,48,38,30,36,32,30,40,24,22,24,32,38,44,34,24,30,38,30,30,24,22,32,42,20,26,30,32,24,22,32,50,32,36,48,54,72,85,65,46,30,36,38,46,54,44,50,66,65],"lo":[24,24,26,28,26,22,18,22,26,34,26,20,18,26,50,38,30,24,18,22,20,18,26,14,12,14,20,24,28,20,14,18,24,18,18,14,12,20,26,12,16,18,20,14,12,18,32,18,22,30,34,46,55,42,28,16,22,24,28,34,28,32,42,42],"hi":[56,60,66,70,64,58,52,58,66,82,66,54,48,64,100,90,74,60,48,58,52,48,64,40,36,38,52,60,70,54,38,48,60,48,50,40,36,52,66,34,42,48,52,40,36,52,78,52,58,74,86,108,122,98,70,48,58,60,72,84,68,78,100,95]},
{"p":8,"label":5,"y":[46,44,40,36,34,32,36,48,42,55,46,38,58,36,40,42,50,38,60,132,78,56,105,24,62,138,75,58,65,68,62,32,46,42,32,32,143,62,50,128,75,58,38,26,30,65,36,32,38,75,38,32,58,46,32,62,50,32,26,32,122,129,42,66],"lo":[26,24,22,20,20,18,20,28,24,32,26,22,32,20,22,24,28,22,34,70,44,32,56,12,34,58,42,32,36,38,34,16,26,24,16,16,60,34,28,54,40,32,20,14,14,36,20,16,20,40,20,16,32,26,16,34,28,16,12,16,55,58,24,36],"hi":[72,68,62,56,54,50,56,78,66,90,74,60,92,56,64,66,80,60,148,298,138,110,201,46,105,261,128,95,112,120,105,52,74,68,52,58,281,105,85,204,125,95,62,48,52,105,60,52,62,115,62,52,95,76,52,102,84,52,46,52,211,212,72,104]},
{"p":8,"label":6,"y":[141,38,44,40,36,34,38,55,100,121,105,80,76,75,70,42,36,40,36,52,54,56,58,50,70,70,60,52,68,65,48,75,70,52,48,38,62,40,36,18,30,44,52,48,30,58,72,52,45,82,45,115,68,52,55,38,40,48,45,48,38,90,50,30],"lo":[68,22,26,24,22,20,22,34,60,74,62,48,46,44,42,24,20,24,20,32,32,32,34,30,40,42,36,30,40,38,26,44,42,30,26,20,36,22,20,10,16,26,30,28,16,34,42,30,26,48,26,62,40,30,32,22,22,28,26,28,20,48,28,16],"hi":[221,58,66,60,54,50,58,82,160,174,150,120,112,110,102,62,54,60,54,78,80,84,86,74,104,104,88,78,102,96,70,110,104,78,72,58,92,60,54,26,46,66,78,72,46,86,105,78,66,118,66,193,100,78,82,58,60,72,68,72,56,128,74,42]},
{"p":8,"label":7,"y":[60,75,52,65,100,154,116,142,70,60,78,80,45,55,112,40,58,92,78,50,58,56,58,78,48,68,104,42,50,58,52,56,48,84,55,42,76,46,48,88,32,62,55,34,40,86,78,164,52,35,38,101,46,42,100,101,107,70,71,60,32,72,72,92],"lo":[34,44,28,38,58,78,62,78,38,34,44,44,26,32,62,22,32,52,44,28,32,30,32,44,26,38,58,22,28,32,28,30,26,48,30,24,42,26,26,50,18,36,30,18,22,48,44,88,28,18,20,56,24,24,54,54,58,38,38,32,16,40,40,50],"hi":[100,118,85,105,165,253,170,270,165,120,140,153,68,82,189,60,88,170,165,72,85,84,86,155,72,100,145,62,74,88,76,84,72,125,82,62,112,68,70,128,48,92,82,50,60,125,115,253,76,52,56,180,70,62,160,195,180,105,105,90,46,108,108,160]},
{"p":8,"label":8,"y":[25,27,25,14,36,56,26,33,60,100,24,42,26,20,37,63,42,38,29,42,25,53,42,67,35,35,45,24,33,52,30,37,42,25,26,24,39,24,38,31,30,21,18,25,38,72,20,27,28,39,37,15,45,76,45,27,40,102,68,250,35,32,35,17],"lo":[18,20,18,10,26,42,18,24,42,68,18,30,18,14,26,44,30,26,20,30,18,38,30,48,26,26,32,18,24,38,22,26,30,18,18,18,28,18,28,22,22,14,12,18,28,50,14,20,20,28,26,10,32,50,32,20,28,70,46,212,26,24,26,12],"hi":[32,34,32,20,46,74,34,42,82,135,32,56,34,26,48,86,54,50,38,56,32,72,56,90,44,44,60,32,44,70,38,48,56,34,34,32,52,32,50,42,40,28,24,34,52,98,28,36,38,52,50,22,60,105,60,36,54,140,92,252,46,42,46,22]}
]},
"data":{"name":"all"},
"transform":[{"flatten":["y","lo","hi"]},{"window":[{"op":"count","field":"y","as":"i"}],"frame":[null,-1],"ignorePeers":true,"groupby":["p","label"]}],
"columns":2,"spacing":{"column":3.4,"row":8},"resolve":{"scale":{"fill":"independent","stroke":"independent"},"legend":{"stroke":"independent"}},
"concat":[
{"title":{"text":"Modified PANSS vs 16 Sliding Window PPL","subtitle":"pythia-70m-deduped"},"width":446,"height":187,"transform":[{"filter":"datum.p==1"}],"encoding":{"x":{"field":"i","type":"quantitative","title":"Index","scale":{"domain":[-3.15,66.1],"nice":false,"zero":false},"axis":{"values":[0,10,20,30,40,50,60]}}},"layer":[{"mark":{"type":"line","strokeWidth":1},"encoding":{"y":{"field":"y","type":"quantitative","title":"PPL","scale":{"domain":[-11.75,586.5],"nice":false},"axis":{"values":[0,100,200,300,400,500],"minExtent":18,"maxExtent":18}},"stroke":{"field":"label","type":"ordinal","scale":{"domain":[2,3,4,5,6,7,8],"range":["#edd1cb","#e8b7b4","#d88fa3","#b2618f","#85407f","#552b66","#2d1e3e"]},"legend":{"title":"label","orient":"none","legendX":209,"legendY":3.7}}}},{"mark":{"type":"area","opacity":0.2},"encoding":{"y":{"field":"lo","type":"quantitative","title":"PPL","axis":{"values":[0,100,200,300,400,500],"minExtent":18,"maxExtent":18}},"y2":{"field":"hi"},"fill":{"field":"label","type":"ordinal","scale":{"domain":[2,3,4,5,6,7,8],"range":["#edd1cb","#e8b7b4","#d88fa3","#b2618f","#85407f","#552b66","#2d1e3e"]},"legend":null}}}]},
{"title":{"text":"Modified PANSS vs 16 Sliding Window PPL","subtitle":"pythia-160m-deduped"},"width":446,"height":187,"transform":[{"filter":"datum.p==2"}],"encoding":{"x":{"field":"i","type":"quantitative","title":"Index","scale":{"domain":[-3.15,66.1],"nice":false,"zero":false},"axis":{"values":[0,10,20,30,40,50,60]}}},"layer":[{"mark":{"type":"line","strokeWidth":1},"encoding":{"y":{"field":"y","type":"quantitative","title":"PPL","scale":{"domain":[-14.4,604.4],"nice":false},"axis":{"values":[0,100,200,300,400,500,600],"minExtent":18,"maxExtent":18}},"stroke":{"field":"label","type":"ordinal","scale":{"domain":[2,3,4,5,6,7,8],"range":["#edd1cb","#e8b7b4","#d88fa3","#b2618f","#85407f","#552b66","#2d1e3e"]},"legend":{"title":"label","orient":"none","legendX":3.4,"legendY":3.7}}}},{"mark":{"type":"area","opacity":0.2},"encoding":{"y":{"field":"lo","type":"quantitative","title":"PPL","axis":{"values":[0,100,200,300,400,500,600],"minExtent":18,"maxExtent":18}},"y2":{"field":"hi"},"fill":{"field":"label","type":"ordinal","scale":{"domain":[2,3,4,5,6,7,8],"range":["#edd1cb","#e8b7b4","#d88fa3","#b2618f","#85407f","#552b66","#2d1e3e"]},"legend":null}}}]},
{"title":{"text":"Modified PANSS vs 16 Sliding Window PPL","subtitle":"pythia-410m-deduped"},"width":446,"height":187,"transform":[{"filter":"datum.p==3"}],"encoding":{"x":{"field":"i","type":"quantitative","title":"Index","scale":{"domain":[-3.15,66.1],"nice":false,"zero":false},"axis":{"values":[0,10,20,30,40,50,60]}}},"layer":[{"mark":{"type":"line","strokeWidth":1},"encoding":{"y":{"field":"y","type":"quantitative","title":"PPL","scale":{"domain":[-13.9,543.7],"nice":false},"axis":{"values":[0,100,200,300,400,500],"minExtent":18,"maxExtent":18}},"stroke":{"field":"label","type":"ordinal","scale":{"domain":[2,3,4,5,6,7,8],"range":["#edd1cb","#e8b7b4","#d88fa3","#b2618f","#85407f","#552b66","#2d1e3e"]},"legend":{"title":"label","orient":"none","legendX":414.6,"legendY":3.7}}}},{"mark":{"type":"area","opacity":0.2},"encoding":{"y":{"field":"lo","type":"quantitative","title":"PPL","axis":{"values":[0,100,200,300,400,500],"minExtent":18,"maxExtent":18}},"y2":{"field":"hi"},"fill":{"field":"label","type":"ordinal","scale":{"domain":[2,3,4,5,6,7,8],"range":["#edd1cb","#e8b7b4","#d88fa3","#b2618f","#85407f","#552b66","#2d1e3e"]},"legend":null}}}]},
{"title":{"text":"Modified PANSS vs 16 Sliding Window PPL","subtitle":"pythia-1b-deduped"},"width":446,"height":187,"transform":[{"filter":"datum.p==4"}],"encoding":{"x":{"field":"i","type":"quantitative","title":"Index","scale":{"domain":[-3.15,66.1],"nice":false,"zero":false},"axis":{"values":[0,10,20,30,40,50,60]}}},"layer":[{"mark":{"type":"line","strokeWidth":1},"encoding":{"y":{"field":"y","type":"quantitative","title":"PPL","scale":{"domain":[-11.3,475.7],"nice":false},"axis":{"values":[0,100,200,300,400],"minExtent":18,"maxExtent":18}},"stroke":{"field":"label","type":"ordinal","scale":{"domain":[2,3,4,5,6,7,8],"range":["#edd1cb","#e8b7b4","#d88fa3","#b2618f","#85407f","#552b66","#2d1e3e"]},"legend":{"title":"label","orient":"none","legendX":209,"legendY":3.7}}}},{"mark":{"type":"area","opacity":0.2},"encoding":{"y":{"field":"lo","type":"quantitative","title":"PPL","axis":{"values":[0,100,200,300,400],"minExtent":18,"maxExtent":18}},"y2":{"field":"hi"},"fill":{"field":"label","type":"ordinal","scale":{"domain":[2,3,4,5,6,7,8],"range":["#edd1cb","#e8b7b4","#d88fa3","#b2618f","#85407f","#552b66","#2d1e3e"]},"legend":null}}}]},
{"title":{"text":"Modified PANSS vs 16 Sliding Window PPL","subtitle":"pythia-1.4b-deduped"},"width":446,"height":187,"transform":[{"filter":"datum.p==5"}],"encoding":{"x":{"field":"i","type":"quantitative","title":"Index","scale":{"domain":[-3.15,66.1],"nice":false,"zero":false},"axis":{"values":[0,10,20,30,40,50,60]}}},"layer":[{"mark":{"type":"line","strokeWidth":1},"encoding":{"y":{"field":"y","type":"quantitative","title":"PPL","scale":{"domain":[-9.5,435.8],"nice":false},"axis":{"values":[0,50,100,150,200,250,300,350,400],"minExtent":18,"maxExtent":18}},"stroke":{"field":"label","type":"ordinal","scale":{"domain":[2,3,4,5,6,7,8],"range":["#edd1cb","#e8b7b4","#d88fa3","#b2618f","#85407f","#552b66","#2d1e3e"]},"legend":{"title":"label","orient":"none","legendX":209,"legendY":3.7}}}},{"mark":{"type":"area","opacity":0.2},"encoding":{"y":{"field":"lo","type":"quantitative","title":"PPL","axis":{"values":[0,50,100,150,200,250,300,350,400],"minExtent":18,"maxExtent":18}},"y2":{"field":"hi"},"fill":{"field":"label","type":"ordinal","scale":{"domain":[2,3,4,5,6,7,8],"range":["#edd1cb","#e8b7b4","#d88fa3","#b2618f","#85407f","#552b66","#2d1e3e"]},"legend":null}}}]},
{"title":{"text":"Modified PANSS vs 16 Sliding Window PPL","subtitle":"pythia-2.8b-deduped"},"width":446,"height":187,"transform":[{"filter":"datum.p==6"}],"encoding":{"x":{"field":"i","type":"quantitative","title":"Index","scale":{"domain":[-3.15,66.1],"nice":false,"zero":false},"axis":{"values":[0,10,20,30,40,50,60]}}},"layer":[{"mark":{"type":"line","strokeWidth":1},"encoding":{"y":{"field":"y","type":"quantitative","title":"PPL","scale":{"domain":[-8,398],"nice":false},"axis":{"values":[0,50,100,150,200,250,300,350],"minExtent":18,"maxExtent":18}},"stroke":{"field":"label","type":"ordinal","scale":{"domain":[2,3,4,5,6,7,8],"range":["#edd1cb","#e8b7b4","#d88fa3","#b2618f","#85407f","#552b66","#2d1e3e"]},"legend":{"title":"label","orient":"none","legendX":209,"legendY":3.7}}}},{"mark":{"type":"area","opacity":0.2},"encoding":{"y":{"field":"lo","type":"quantitative","title":"PPL","axis":{"values":[0,50,100,150,200,250,300,350],"minExtent":18,"maxExtent":18}},"y2":{"field":"hi"},"fill":{"field":"label","type":"ordinal","scale":{"domain":[2,3,4,5,6,7,8],"range":["#edd1cb","#e8b7b4","#d88fa3","#b2618f","#85407f","#552b66","#2d1e3e"]},"legend":null}}}]},
{"title":{"text":"Modified PANSS vs 16 Sliding Window PPL","subtitle":"pythia-6.9b-deduped"},"width":446,"height":187,"transform":[{"filter":"datum.p==7"}],"encoding":{"x":{"field":"i","type":"quantitative","title":"Index","scale":{"domain":[-3.15,66.1],"nice":false,"zero":false},"axis":{"values":[0,10,20,30,40,50,60]}}},"layer":[{"mark":{"type":"line","strokeWidth":1},"encoding":{"y":{"field":"y","type":"quantitative","title":"PPL","scale":{"domain":[-4.9,338.7],"nice":false},"axis":{"values":[0,50,100,150,200,250,300],"minExtent":18,"maxExtent":18}},"stroke":{"field":"label","type":"ordinal","scale":{"domain":[2,3,4,5,6,7,8],"range":["#edd1cb","#e8b7b4","#d88fa3","#b2618f","#85407f","#552b66","#2d1e3e"]},"legend":{"title":"label","orient":"none","legendX":209,"legendY":3.7}}}},{"mark":{"type":"area","opacity":0.2},"encoding":{"y":{"field":"lo","type":"quantitative","title":"PPL","axis":{"values":[0,50,100,150,200,250,300],"minExtent":18,"maxExtent":18}},"y2":{"field":"hi"},"fill":{"field":"label","type":"ordinal","scale":{"domain":[2,3,4,5,6,7,8],"range":["#edd1cb","#e8b7b4","#d88fa3","#b2618f","#85407f","#552b66","#2d1e3e"]},"legend":null}}}]},
{"title":{"text":"Modified PANSS vs 16 Sliding Window PPL","subtitle":"pythia-12b-deduped"},"width":446,"height":187,"transform":[{"filter":"datum.p==8"}],"encoding":{"x":{"field":"i","type":"quantitative","title":"Index","scale":{"domain":[-3.15,66.1],"nice":false,"zero":false},"axis":{"values":[0,10,20,30,40,50,60]}}},"layer":[{"mark":{"type":"line","strokeWidth":1},"encoding":{"y":{"field":"y","type":"quantitative","title":"PPL","scale":{"domain":[-4.5,312.4],"nice":false},"axis":{"values":[0,50,100,150,200,250,300],"minExtent":18,"maxExtent":18}},"stroke":{"field":"label","type":"ordinal","scale":{"domain":[2,3,4,5,6,7,8],"range":["#edd1cb","#e8b7b4","#d88fa3","#b2618f","#85407f","#552b66","#2d1e3e"]},"legend":{"title":"label","orient":"none","legendX":209,"legendY":3.7}}}},{"mark":{"type":"area","opacity":0.2},"encoding":{"y":{"field":"lo","type":"quantitative","title":"PPL","axis":{"values":[0,50,100,150,200,250,300],"minExtent":18,"maxExtent":18}},"y2":{"field":"hi"},"fill":{"field":"label","type":"ordinal","scale":{"domain":[2,3,4,5,6,7,8],"range":["#edd1cb","#e8b7b4","#d88fa3","#b2618f","#85407f","#552b66","#2d1e3e"]},"legend":null}}}]}
]}
